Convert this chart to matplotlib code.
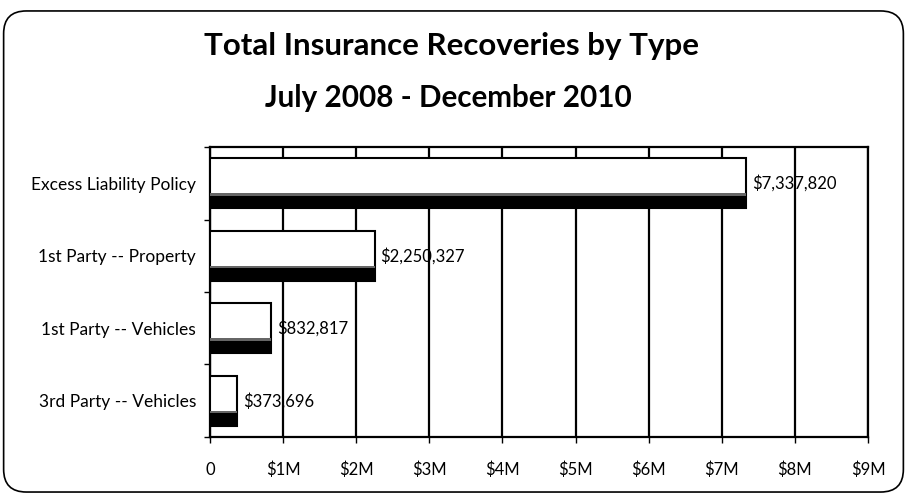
import matplotlib.pyplot as plt
from matplotlib.patches import FancyBboxPatch
from matplotlib.ticker import FuncFormatter
import numpy as np

categories = ["Excess Liability Policy", "1st Party -- Property",
              "1st Party -- Vehicles", "3rd Party -- Vehicles"]
recoveries = [7337820, 2250327, 832817, 373696]
value_labels = ["$7,337,820", "$2,250,327", "$832,817", "$373,696"]
x_ticks = [0, 1e6, 2e6, 3e6, 4e6, 5e6, 6e6, 7e6, 8e6, 9e6]

plt.rcParams['font.family'] = ['Lato', 'DejaVu Sans']

fig = plt.figure(figsize=(9.07, 4.98), dpi=100)

# rounded outer frame
frame = FancyBboxPatch((0.004, 0.012), 0.992, 0.966,
                       boxstyle="round,pad=0,rounding_size=0.025",
                       transform=fig.transFigure, fill=False,
                       edgecolor='black', linewidth=1.2,
                       mutation_aspect=907 / 498)
fig.patches.append(frame)

fig.text(0.498, 0.908, "Total Insurance Recoveries by Type", ha='center', va='center',
         fontsize=22.5, fontweight='bold')
fig.text(0.494, 0.803, "July 2008 - December 2010", ha='center', va='center',
         fontsize=21.3, fontweight='bold')

ax = fig.add_axes([0.2315, 0.1225, 0.7255, 0.5823])

y = np.arange(len(categories))
bar_h = 0.69
dark_h = 0.17

ax.barh(y, recoveries, height=bar_h, color='white', edgecolor='black', linewidth=1.5, zorder=3)
# dark shaded bottom band of each bar
ax.barh(y + bar_h / 2 - dark_h / 2, recoveries, height=dark_h, color='black',
        linewidth=0, zorder=4)
ax.barh(y + bar_h / 2 - dark_h - 0.02, recoveries, height=0.04, color='#666666',
        linewidth=0, zorder=4)

for yi, v, lab in zip(y, recoveries, value_labels):
    ax.text(v + 80000, yi, lab, va='center', ha='left', fontsize=12, zorder=5)

ax.set_xlim(0, 9e6)
ax.set_ylim(len(categories) - 0.5, -0.5)
ax.set_xticks(x_ticks)
ax.xaxis.set_major_formatter(FuncFormatter(lambda v, p: "0" if v == 0 else "$%dM" % (v / 1e6)))
ax.set_yticks(y)
ax.set_yticklabels(categories)
ax.set_yticks(np.arange(len(categories) + 1) - 0.5, minor=True)
ax.tick_params(axis='y', which='major', length=0, labelsize=12.5, pad=10)
ax.tick_params(axis='y', which='minor', length=4, width=1)
ax.tick_params(axis='x', length=4, width=1, labelsize=12, pad=14)

ax.grid(axis='x', color='black', linewidth=1.6, zorder=0)
ax.set_axisbelow(True)
for s in ax.spines.values():
    s.set_linewidth(1.6)

plt.savefig("out.png", dpi=100)
